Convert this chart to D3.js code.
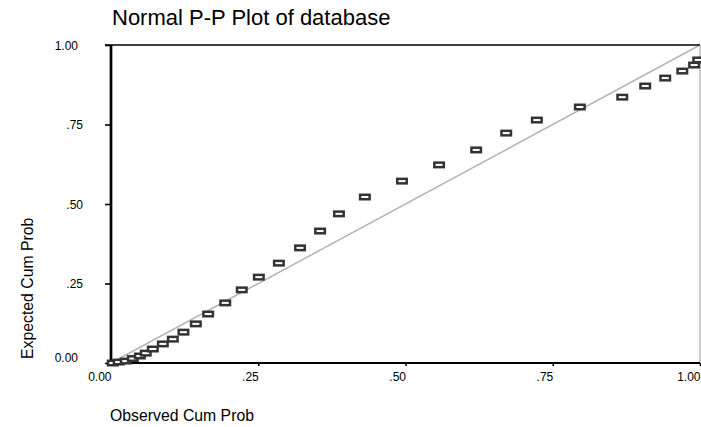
<!DOCTYPE html>
<html>
<head>
<meta charset="utf-8">
<script src="https://cdn.jsdelivr.net/npm/d3@7"></script>
<style>
  body { margin: 0; background: #fff; }
  svg { display: block; font-family: "Liberation Sans", Arial, sans-serif; }
</style>
</head>
<body>
<svg id="chart" width="701" height="427"></svg>
<script>
// Titles
const chartTitle = "Normal P-P Plot of database";
const xTitle = "Observed Cum Prob";
const yTitle = "Expected Cum Prob";

// Observed vs expected cumulative probabilities
const observed = [0.003, 0.013, 0.025, 0.037, 0.049, 0.059, 0.071, 0.088, 0.105, 0.123,
                  0.144, 0.165, 0.194, 0.222, 0.251, 0.285, 0.321, 0.355, 0.387, 0.431,
                  0.494, 0.557, 0.620, 0.671, 0.723, 0.796, 0.868, 0.907, 0.941, 0.970,
                  0.990, 0.997];
const expected = [0.000, 0.003, 0.006, 0.014, 0.022, 0.031, 0.044, 0.060, 0.075, 0.097,
                  0.123, 0.154, 0.189, 0.230, 0.270, 0.314, 0.362, 0.415, 0.469, 0.522,
                  0.572, 0.623, 0.670, 0.723, 0.764, 0.805, 0.836, 0.871, 0.896, 0.918,
                  0.937, 0.953];

// Axis ticks
const tickValues = [0, 0.25, 0.5, 0.75, 1];
const tickLabels = ["0.00", ".25", ".50", ".75", "1.00"];

const svg = d3.select("#chart");
const plotLeft = 111, plotRight = 700, plotTop = 45, plotBottom = 363;

const x = d3.scaleLinear().domain([0, 1]).range([plotLeft, plotRight]);
const y = d3.scaleLinear().domain([0, 1]).range([plotBottom, plotTop]);
const fmt = v => tickLabels[tickValues.indexOf(v)];

// Title
svg.append("text")
  .attr("x", 112).attr("y", 25)
  .attr("font-size", 22).attr("fill", "#000")
  .text(chartTitle);

// Reference diagonal
svg.append("line")
  .attr("x1", x(0)).attr("y1", y(0))
  .attr("x2", x(1)).attr("y2", y(1))
  .attr("stroke", "#b4b4b4").attr("stroke-width", 1.5);

// Frame: top and right edges
svg.append("line")
  .attr("x1", x(0) - 6).attr("x2", x(1)).attr("y1", y(1)).attr("y2", y(1))
  .attr("stroke", "#000").attr("stroke-width", 1.4);
svg.append("line")
  .attr("x1", x(1)).attr("x2", x(1)).attr("y1", y(1)).attr("y2", y(0))
  .attr("stroke", "#999").attr("stroke-width", 1);

// Y axis
const yAxis = svg.append("g")
  .attr("transform", `translate(${plotLeft},0)`)
  .call(d3.axisLeft(y).tickValues(tickValues).tickFormat(fmt).tickSize(6).tickPadding(0));
yAxis.select(".domain").remove();
yAxis.selectAll(".tick line").attr("stroke", "#000").attr("stroke-width", 1.6);
yAxis.selectAll(".tick text")
  .attr("font-size", 12).attr("fill", "#000")
  .attr("text-anchor", "end")
  .attr("x", d => fmt(d).startsWith(".") ? 83 - plotLeft : 78 - plotLeft)
  .attr("dy", d => d === 0 ? "-0.15em" : "0.35em");
yAxis.attr("font-family", null);

// X axis
const xAxis = svg.append("g")
  .attr("transform", `translate(0,${plotBottom})`)
  .call(d3.axisBottom(x).tickValues(tickValues).tickFormat(fmt).tickSize(3).tickPadding(0));
xAxis.select(".domain").remove();
xAxis.selectAll(".tick line").attr("stroke", "#000").attr("stroke-width", 1.6);
xAxis.selectAll(".tick text")
  .attr("font-size", 12).attr("fill", "#000")
  .attr("text-anchor", "end")
  .attr("y", 18).attr("dy", null);
xAxis.attr("font-family", null);

// Axis lines
svg.append("line")
  .attr("x1", x(0)).attr("x2", x(1)).attr("y1", y(0)).attr("y2", y(0))
  .attr("stroke", "#000").attr("stroke-width", 2);
svg.append("line")
  .attr("x1", x(0)).attr("x2", x(0)).attr("y1", y(1)).attr("y2", y(0) + 1)
  .attr("stroke", "#000").attr("stroke-width", 2.7);

// Axis titles
svg.append("text")
  .attr("x", 110).attr("y", 421)
  .attr("font-size", 15.8).attr("fill", "#000")
  .text(xTitle);
svg.append("text")
  .attr("transform", "translate(33,359) rotate(-90)")
  .attr("font-size", 15.8).attr("fill", "#000")
  .text(yTitle);

// Point markers
const pts = observed.map((o, i) => ({ o, e: expected[i] }));
svg.append("g").selectAll("rect")
  .data(pts)
  .join("rect")
  .attr("x", d => x(d.o) - 4.75)
  .attr("y", d => y(d.e) - 2.25)
  .attr("width", 9.5).attr("height", 4.5)
  .attr("fill", "#fff").attr("stroke", "#333").attr("stroke-width", 2.5);
</script>
</body>
</html>
